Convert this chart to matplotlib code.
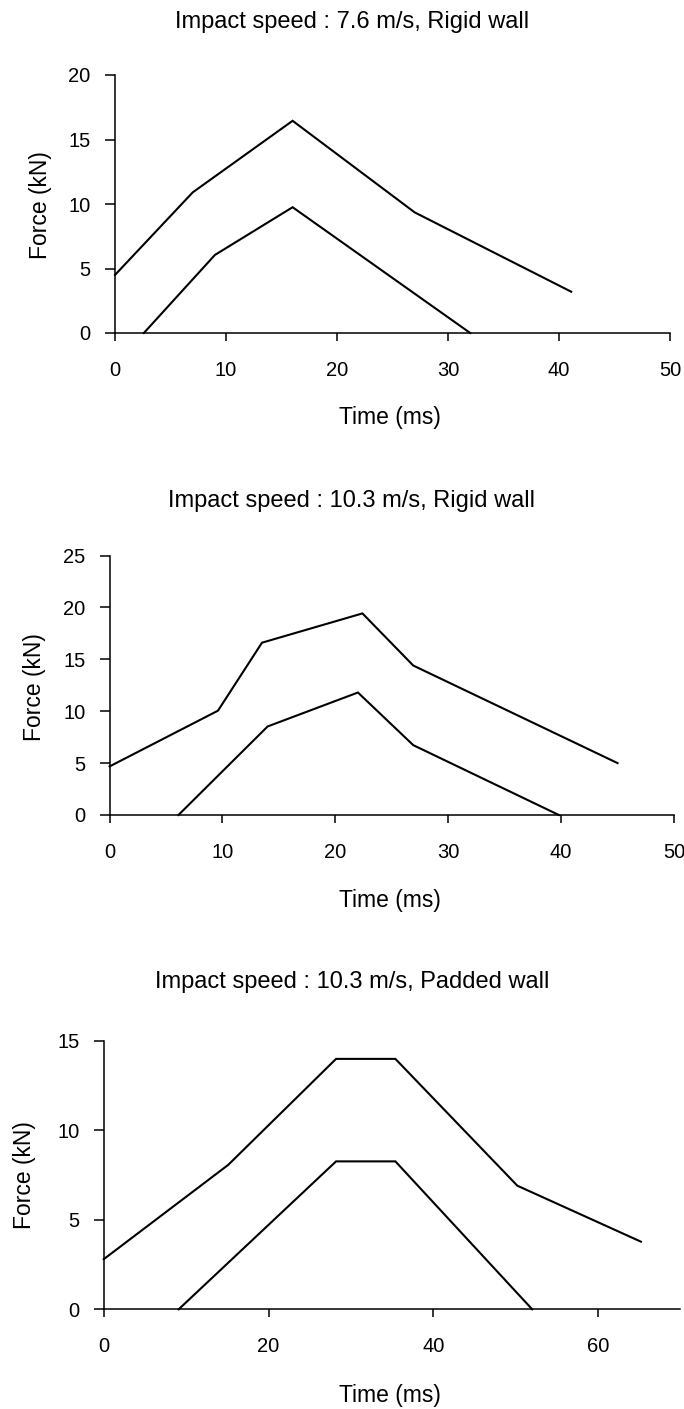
import matplotlib
matplotlib.use("Agg")
import matplotlib.pyplot as plt

plt.rcParams['font.family'] = ['Liberation Sans', 'DejaVu Sans']

W, H = 684, 1409

titles = ["Impact speed : 7.6 m/s, Rigid wall",
          "Impact speed : 10.3 m/s, Rigid wall",
          "Impact speed : 10.3 m/s, Padded wall"]
xlabel = "Time (ms)"
ylabel = "Force (kN)"

# Panel 1: 7.6 m/s rigid wall
p1_upper_t = [0, 7, 16, 27, 41.1]
p1_upper_f = [4.5, 10.9, 16.45, 9.35, 3.2]
p1_lower_t = [2.6, 9, 16, 32]
p1_lower_f = [0, 6.05, 9.75, 0]
p1_xticks = [0, 10, 20, 30, 40, 50]
p1_yticks = [0, 5, 10, 15, 20]

# Panel 2: 10.3 m/s rigid wall
p2_upper_t = [0, 9.6, 13.5, 22.4, 26.9, 45.0]
p2_upper_f = [4.68, 10.05, 16.6, 19.42, 14.4, 5.0]
p2_lower_t = [6.1, 14.0, 22.0, 26.9, 39.8]
p2_lower_f = [0, 8.53, 11.8, 6.73, 0]
p2_xticks = [0, 10, 20, 30, 40, 50]
p2_yticks = [0, 5, 10, 15, 20, 25]

# Panel 3: 10.3 m/s padded wall
p3_upper_t = [0, 15.1, 28.2, 35.4, 50.2, 65.2]
p3_upper_f = [2.8, 8.07, 14.0, 14.0, 6.91, 3.78]
p3_lower_t = [9.1, 28.2, 35.4, 52.0]
p3_lower_f = [0, 8.27, 8.27, 0]
p3_xticks = [0, 20, 40, 60]
p3_yticks = [0, 5, 10, 15]

panels = [
    dict(rect=(115.0, 75.0, 670.0, 333.0), xlim=(0, 50), ylim=(0, 20),
         xt=p1_xticks, yt=p1_yticks,
         curves=[(p1_upper_t, p1_upper_f), (p1_lower_t, p1_lower_f)],
         title_y=27.7, xlab_y=424.0, ylab_x=41.0, ylab_y=205.0),
    dict(rect=(109.6, 555.5, 674.0, 815.0), xlim=(0, 50), ylim=(0, 25),
         xt=p2_xticks, yt=p2_yticks,
         curves=[(p2_upper_t, p2_upper_f), (p2_lower_t, p2_lower_f)],
         title_y=506.7, xlab_y=906.7, ylab_x=34.0, ylab_y=687.0),
    dict(rect=(103.7, 1041.0, 680.5, 1309.3), xlim=(0, 70), ylim=(0, 15),
         xt=p3_xticks, yt=p3_yticks,
         curves=[(p3_upper_t, p3_upper_f), (p3_lower_t, p3_lower_f)],
         title_y=988.3, xlab_y=1401.7, ylab_x=24.0, ylab_y=1175.0),
]

fig = plt.figure(figsize=(W / 100, H / 100), dpi=100)
fig.patch.set_facecolor('white')

for i, p in enumerate(panels):
    l, t, r, b = p['rect']
    ax = fig.add_axes([l / W, 1 - b / H, (r - l) / W, (b - t) / H])
    for tx, fy in p['curves']:
        ax.plot(tx, fy, color='black', lw=1.5, solid_joinstyle='miter', clip_on=False)
    ax.set_xlim(*p['xlim'])
    ax.set_ylim(*p['ylim'])
    ax.set_xticks(p['xt'])
    ax.set_yticks(p['yt'])
    for s in ['top', 'right']:
        ax.spines[s].set_visible(False)
    for s in ['left', 'bottom']:
        ax.spines[s].set_linewidth(1.1)
    ax.tick_params(axis='y', direction='out', length=7.5, width=1.1,
                   pad=10, labelsize=14.5)
    ax.tick_params(axis='x', direction='out', length=6, width=1.1,
                   pad=14, labelsize=14.5)
    ax.patch.set_alpha(0)

    fig.text(352 / W, 1 - p['title_y'] / H, titles[i], ha='center',
             va='baseline', fontsize=17)
    fig.text(390 / W, 1 - p['xlab_y'] / H, xlabel, ha='center',
             va='baseline', fontsize=16.5)
    fig.text(p['ylab_x'] / W, 1 - p['ylab_y'] / H, ylabel, ha='center',
             va='center', rotation=90, fontsize=16.5)

fig.savefig('out.png', dpi=100, facecolor='white')
